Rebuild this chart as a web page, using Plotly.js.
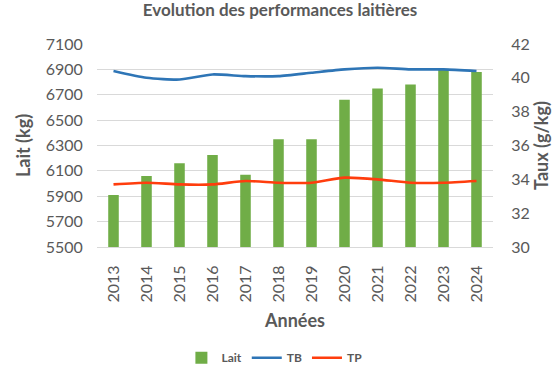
<!DOCTYPE html>
<html><head><meta charset="utf-8">
<script src="https://cdn.plot.ly/plotly-3.0.1.min.js"></script>
<style>body{margin:0}#c{width:560px;height:368px}</style>
</head><body><div id="c"></div>
<script>
const annees = ['2013','2014','2015','2016','2017','2018','2019','2020','2021','2022','2023','2024'];
const lait = [5910, 6060, 6160, 6225, 6070, 6350, 6350, 6660, 6750, 6780, 6905, 6880];
const tb = [40.4, 40.0, 39.9, 40.2, 40.1, 40.1, 40.3, 40.5, 40.6, 40.5, 40.5, 40.4];
const tp = [33.7, 33.8, 33.7, 33.7, 33.9, 33.8, 33.8, 34.1, 34.0, 33.8, 33.8, 33.9];
const F = 'Lato, "Open Sans", sans-serif';
const grey = '#595959';
const data = [
  {type:'bar', name:'<b>Lait</b>', x:annees, y:lait, marker:{color:'#70AD47'}},
  {type:'scatter', mode:'lines', name:'<b>TB</b>', x:annees, y:tb, yaxis:'y2', line:{color:'#2E75B6', width:2.6, shape:'spline', smoothing:0.6}},
  {type:'scatter', mode:'lines', name:'<b>TP</b>', x:annees, y:tp, yaxis:'y2', line:{color:'#FF3D0D', width:2.6, shape:'spline', smoothing:0.6}}
];
const layout = {
  width:560, height:368,
  margin:{l:97, r:67, t:44, b:121, autoexpand:false},
  paper_bgcolor:'#fff', plot_bgcolor:'#fff',
  font:{family:F, color:grey},
  title:{text:'<b>Evolution des performances laitières</b>', font:{size:17, color:grey, family:F}, x:0.5, xanchor:'center', y:0.99, yanchor:'top'},
  bargap:0.68,
  showlegend:true,
  legend:{orientation:'h', xref:'container', x:0.49, xanchor:'center', yref:'container', y:0.028, yanchor:'middle', font:{size:12, color:grey, family:F}, traceorder:'normal', itemwidth:30, tracegroupgap:0},
  xaxis:{type:'category', tickangle:-90, tickfont:{size:16, color:grey}, showgrid:false, showline:true, linecolor:'#D9D9D9', ticks:'outside', ticklen:11, tickcolor:'rgba(0,0,0,0)',
         title:{text:'<b>Années</b>', font:{size:18, color:grey}, standoff:12}},
  yaxis:{range:[5500,7100], tickvals:[5500,5700,5900,6100,6300,6500,6700,6900,7100], tickfont:{size:16, color:grey},
         gridcolor:'#D9D9D9', gridwidth:1, zeroline:false, ticks:'outside', ticklen:10, tickcolor:'rgba(0,0,0,0)',
         title:{text:'<b>Lait (kg)</b>', font:{size:18, color:grey}, standoff:10}},
  yaxis2:{overlaying:'y', side:'right', range:[30,42], tickvals:[30,32,34,36,38,40,42], tickfont:{size:16, color:grey},
          showgrid:false, zeroline:false, ticks:'outside', ticklen:14, tickcolor:'rgba(0,0,0,0)',
          title:{text:'<b>Taux (g/kg)</b>', font:{size:18, color:grey}, standoff:6}}
};
Plotly.newPlot('c', data, layout, {displayModeBar:false, staticPlot:true});
</script></body></html>
